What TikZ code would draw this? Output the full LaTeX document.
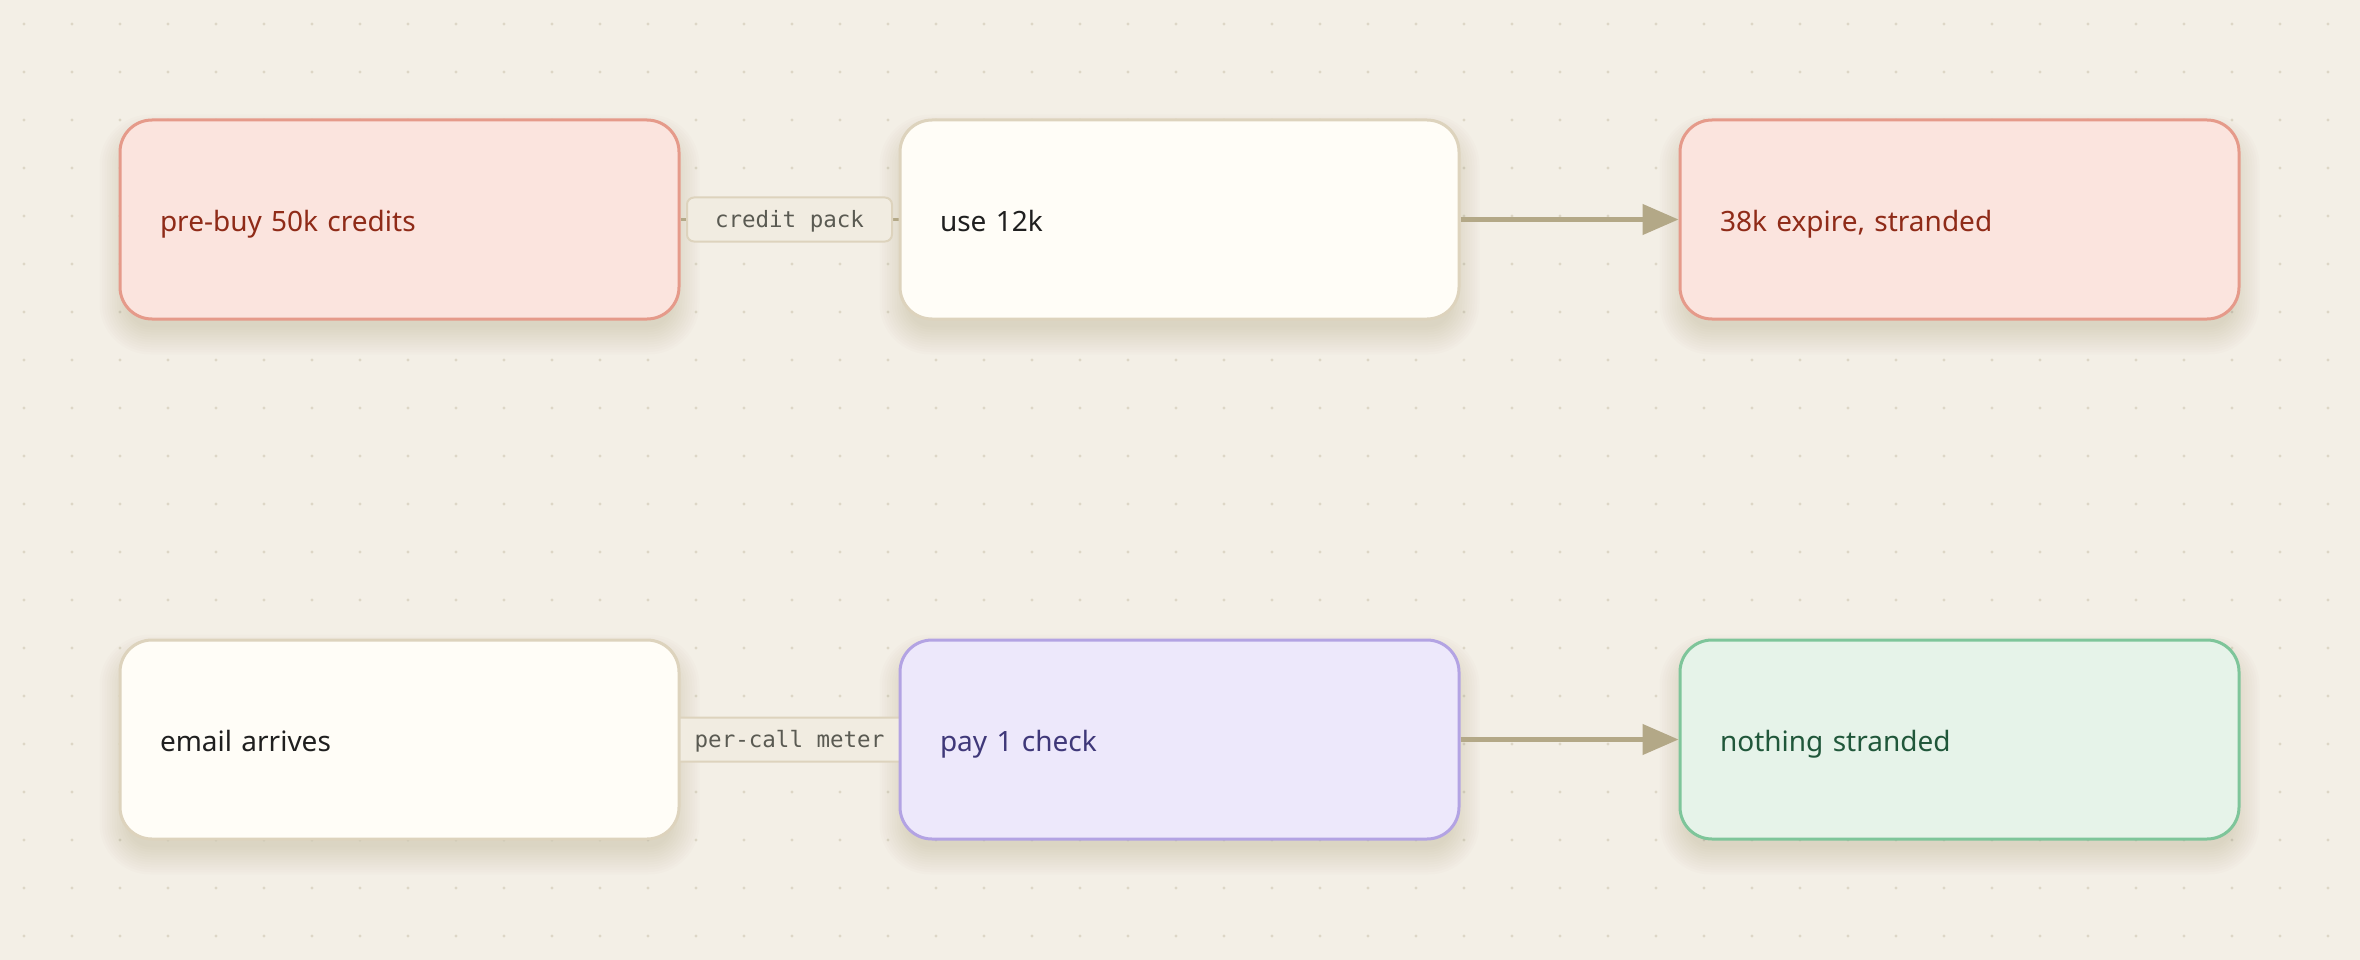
\documentclass[tikz,border=0pt]{standalone}
\usepackage{fontspec}
\setmainfont{Noto Sans}
\setmonofont{DejaVu Sans Mono}
\usetikzlibrary{arrows.meta}
\definecolor{bgc}{HTML}{F3EFE6}
\definecolor{dotc}{HTML}{DDD6C6}
\definecolor{redfill}{HTML}{FBE4DE}
\definecolor{redline}{HTML}{E59A8A}
\definecolor{redtext}{HTML}{8F2B18}
\definecolor{whfill}{HTML}{FFFDF7}
\definecolor{whline}{HTML}{DDD3BD}
\definecolor{whtext}{HTML}{1F1F1F}
\definecolor{pufill}{HTML}{EDE8FB}
\definecolor{puline}{HTML}{B3A3E3}
\definecolor{putext}{HTML}{3F3879}
\definecolor{grfill}{HTML}{E6F3E9}
\definecolor{grline}{HTML}{7EC59A}
\definecolor{grtext}{HTML}{20573A}
\definecolor{chipfill}{HTML}{F1ECE1}
\definecolor{chipline}{HTML}{DDD3BD}
\definecolor{chiptext}{HTML}{5A5A52}
\definecolor{arrowc}{HTML}{B3A887}
\definecolor{shadowc}{HTML}{7A6A48}
\pgfdeclarelayer{bglayer}
\pgfdeclarelayer{shadowlayer}
\pgfdeclarelayer{edgelayer}
\pgfsetlayers{bglayer,shadowlayer,edgelayer,main}
\tikzset{
  box/.style={draw, line width=3pt, rounded corners=32pt,
    minimum height=199pt, text width=479pt, inner xsep=40pt, align=left,
    text height=30pt, text depth=6pt,
    font=\fontsize{28}{34}\selectfont},
  redbox/.style={box, fill=redfill, draw=redline, text=redtext},
  whbox/.style={box, fill=whfill, draw=whline, text=whtext},
  pubox/.style={box, fill=pufill, draw=puline, text=putext},
  grbox/.style={box, fill=grfill, draw=grline, text=grtext},
  chip/.style={draw=chipline, fill=chipfill, line width=2pt, rounded corners=7pt,
    minimum height=44pt, inner xsep=28pt, inner ysep=0pt, text=chiptext,
    text height=17pt, text depth=1pt,
    font=\ttfamily\fontsize{22.5}{26}\selectfont},
  stub/.style={draw=arrowc, line width=3pt},
  flow/.style={draw=arrowc, line width=4.5pt, -{Triangle[length=36pt,width=30pt]}},
  shadowlay/.style={fill=shadowc, fill opacity=0.016},
}
\newcommand{\softshadow}[1]{%
  \begin{pgfonlayer}{shadowlayer}
  \foreach \k in {1,...,12} {
    \pgfmathsetmacro{\ee}{2.5*\k-11}
    \pgfmathsetmacro{\rr}{max(32+\ee,8)}
    \fill[shadowlay, rounded corners=\rr pt]
      ([xshift=-\ee pt, yshift=\ee pt-15pt]#1.north west) rectangle
      ([xshift=\ee pt, yshift=-\ee pt-15pt]#1.south east);
  }
  \end{pgfonlayer}}
\begin{document}
\begin{tikzpicture}[x=1pt,y=-1pt]
\begin{pgfonlayer}{bglayer}
  \fill[bgc] (0,0) rectangle (2360,960);
  \foreach \i in {0,...,48} {
    \foreach \j in {0,...,19} {
      \fill[dotc] ({24+48*\i},{24+48*\j}) circle (1.6pt);
    }
  }
\end{pgfonlayer}
\useasboundingbox (0,0) rectangle (2360,960);

\node[redbox] (b1) at (399.5,219.5) {pre-buy 50k credits};
\node[whbox]  (b2) at (1179.5,219.5) {use 12k};
\node[redbox] (b3) at (1959.5,219.5) {38k expire, stranded};

\node[whbox]  (d1) at (399.5,739.5) {email arrives};
\node[pubox]  (d2) at (1179.5,739.5) {pay 1 check};
\node[grbox]  (d3) at (1959.5,739.5) {nothing stranded};

\softshadow{b1}\softshadow{b2}\softshadow{b3}
\softshadow{d1}\softshadow{d2}\softshadow{d3}

\begin{pgfonlayer}{edgelayer}
  \draw[stub] (b1.east) -- node[chip] (c1) {credit pack} (b2.west);
  \draw[stub] (d1.east) -- node[chip] (c2) {per-call meter} (d2.west);
\end{pgfonlayer}

\draw[flow] (b2.east) -- (b3.west);
\draw[flow] (d2.east) -- (d3.west);
\end{tikzpicture}
\end{document}
